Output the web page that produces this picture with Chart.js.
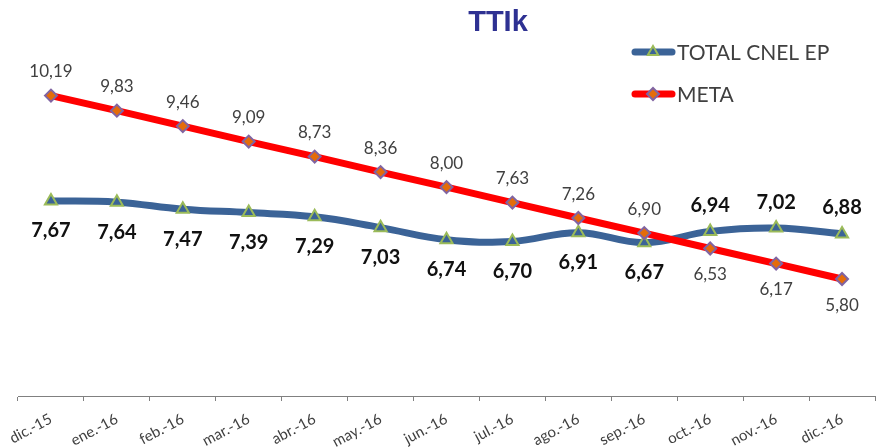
<!DOCTYPE html>
<html>
<head>
<meta charset="utf-8">
<script src="https://cdn.jsdelivr.net/npm/chart.js@4/dist/chart.umd.min.js"></script>
<style>
  html, body { margin: 0; padding: 0; background: #fff; overflow: hidden; }
  #wrap { width: 884px; height: 448px; }
</style>
</head>
<body>
<div id="wrap"><canvas id="c" width="884" height="448"></canvas></div>
<script>
// Monthly TTIk indicator, Dec 2015 – Dec 2016
const categories = ['dic.-15', 'ene.-16', 'feb.-16', 'mar.-16', 'abr.-16', 'may.-16', 'jun.-16',
                    'jul.-16', 'ago.-16', 'sep.-16', 'oct.-16', 'nov.-16', 'dic.-16'];
const totalCnelEp = [7.67, 7.64, 7.47, 7.39, 7.29, 7.03, 6.74, 6.70, 6.91, 6.67, 6.94, 7.02, 6.88];
const meta = [10.19, 9.83, 9.46, 9.09, 8.73, 8.36, 8.00, 7.63, 7.26, 6.90, 6.53, 6.17, 5.80];

const BLUE = '#3B6397';
const RED = '#FF0000';
const FONT = 'Lato, "Open Sans", sans-serif';

const fmt = v => v.toFixed(2).replace('.', ',');

// Value labels, title and legend drawn over the chart
const overlay = {
  id: 'overlay',
  afterDatasetsDraw(chart) {
    const ctx = chart.ctx;
    ctx.save();
    ctx.textAlign = 'center';
    ctx.textBaseline = 'middle';

    // META labels: regular grey, above the line until it crosses below
    const mMeta = chart.getDatasetMeta(1);
    ctx.font = '17px ' + FONT;
    ctx.fillStyle = '#404040';
    mMeta.data.forEach((p, i) => {
      const dy = i >= 10 ? 26 : -24;
      ctx.fillText(fmt(meta[i]), p.x, p.y + dy);
    });

    // TOTAL CNEL EP labels: bold black
    const mTot = chart.getDatasetMeta(0);
    ctx.font = 'bold 20px ' + FONT;
    ctx.fillStyle = '#111';
    mTot.data.forEach((p, i) => {
      const dy = i >= 10 ? -26 : 30;
      ctx.fillText(fmt(totalCnelEp[i]), p.x, p.y + dy);
    });

    // Title
    ctx.font = 'bold 29px "Liberation Sans", Arial, sans-serif';
    ctx.fillStyle = '#2E3192';
    ctx.fillText('TTIk', 498, 23);

    // Legend
    const items = [
      { label: 'TOTAL CNEL EP', color: BLUE, y: 52, style: 'triangle', fill: BLUE, edge: '#9BBB59' },
      { label: 'META', color: RED, y: 94, style: 'rectRot', fill: '#E46C0A', edge: '#8064A2' }
    ];
    items.forEach(it => {
      ctx.beginPath();
      ctx.lineCap = 'round';
      ctx.lineWidth = 7;
      ctx.strokeStyle = it.color;
      ctx.moveTo(635, it.y);
      ctx.lineTo(672, it.y);
      ctx.stroke();
      ctx.fillStyle = it.fill;
      ctx.strokeStyle = it.edge;
      ctx.lineWidth = 2;
      Chart.helpers.drawPoint(ctx, { pointStyle: it.style, radius: 6, borderWidth: 2 }, 653, it.y);
      ctx.textAlign = 'left';
      ctx.font = '21px ' + FONT;
      ctx.fillStyle = '#404040';
      ctx.fillText(it.label, 677, it.y + 1);
    });
    ctx.restore();
  }
};

new Chart(document.getElementById('c'), {
  type: 'line',
  data: {
    labels: categories,
    datasets: [
      {
        label: 'TOTAL CNEL EP',
        data: totalCnelEp,
        borderColor: BLUE,
        borderWidth: 7,
        tension: 0.4,
        pointStyle: 'triangle',
        pointRadius: 7,
        pointBackgroundColor: BLUE,
        pointBorderColor: '#9BBB59',
        pointBorderWidth: 2,
        order: 1
      },
      {
        label: 'META',
        data: meta,
        borderColor: RED,
        borderWidth: 7,
        tension: 0,
        pointStyle: 'rectRot',
        pointRadius: 6,
        pointBackgroundColor: '#E46C0A',
        pointBorderColor: '#8064A2',
        pointBorderWidth: 2,
        order: 0
      }
    ]
  },
  options: {
    responsive: false,
    animation: false,
    layout: { padding: { left: 18, right: 2, top: 20, bottom: 0 } },
    plugins: {
      legend: { display: false },
      title: { display: false },
      tooltip: { enabled: false }
    },
    scales: {
      x: {
        offset: true,
        afterFit(scale) {
          scale.height = 52;
          scale.paddingLeft = 0;
          scale.paddingRight = 0;
        },
        grid: {
          offset: true,
          drawOnChartArea: false,
          drawTicks: true,
          tickLength: 5,
          color: '#808080'
        },
        border: { display: true, color: '#808080', width: 1 },
        ticks: {
          minRotation: 28,
          maxRotation: 28,
          padding: 9,
          color: '#404040',
          font: { family: FONT, size: 15 }
        }
      },
      y: {
        display: false,
        min: 3,
        max: 12
      }
    }
  },
  plugins: [overlay]
});
</script>
</body>
</html>
